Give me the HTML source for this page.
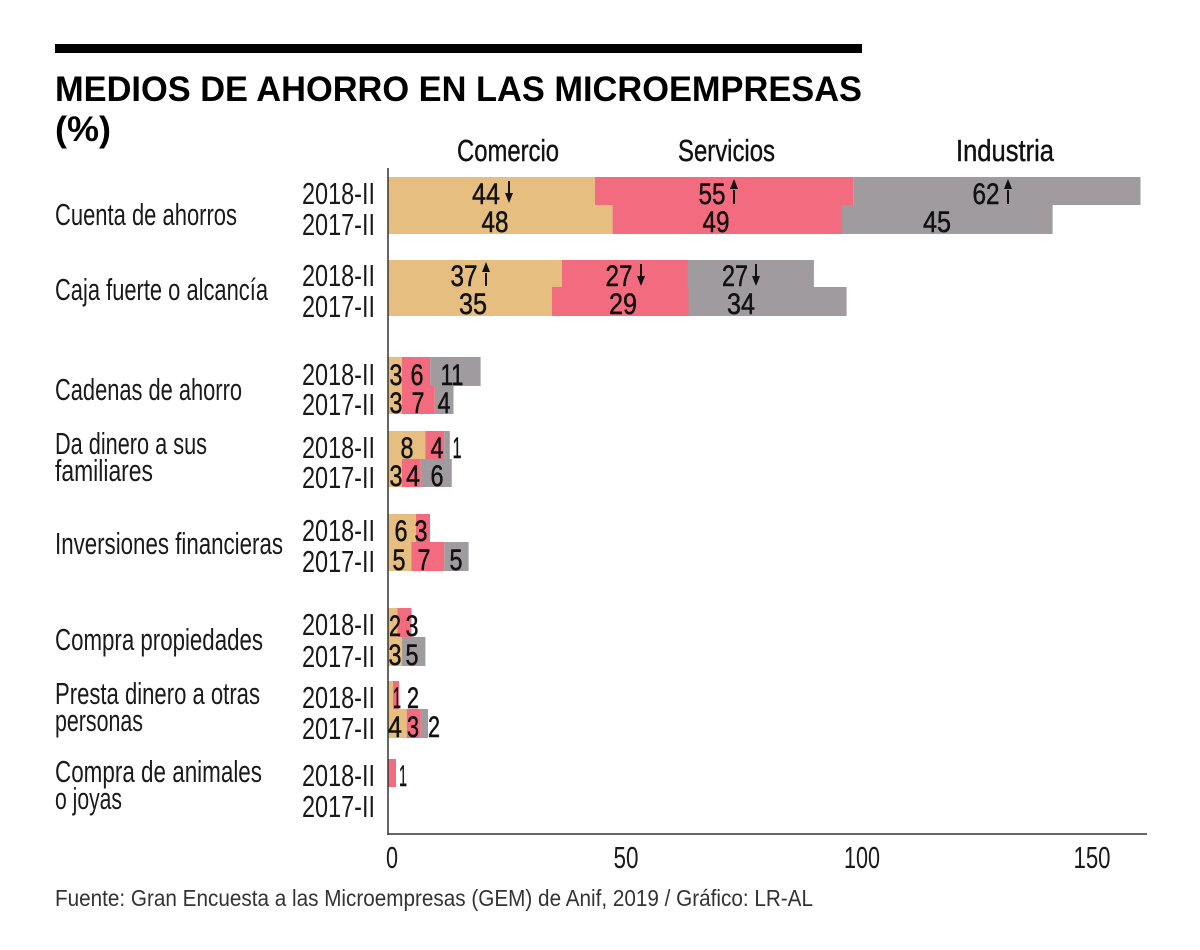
<!DOCTYPE html>
<html>
<head>
<meta charset="utf-8">
<style>
html,body{margin:0;padding:0;background:#fff;}
svg{display:block;}
text{font-family:"Liberation Sans Narrow","Liberation Sans",sans-serif;}
.t{font-weight:bold;fill:#000;}
.cat{font-size:31px;fill:#1a1a1a;}
.yr{font-size:31px;fill:#1a1a1a;}
.n{font-size:30px;fill:#111;text-anchor:middle;stroke:#111;stroke-width:0.5;}
.h{font-size:31px;fill:#111;stroke:#111;stroke-width:0.4;}
.tk{font-size:31px;fill:#1a1a1a;text-anchor:middle;}
.ft{font-size:23px;fill:#333;}
.a{stroke:#111;stroke-width:2;}
</style>
</head>
<body>
<svg width="1200" height="950" viewBox="0 0 1200 950" xmlns="http://www.w3.org/2000/svg">
<rect x="0" y="0" width="1200" height="950" fill="#fff"/>
<rect x="55" y="44" width="807" height="9" fill="#000"/>
<text class="t" x="55" y="101" font-size="35" textLength="807" lengthAdjust="spacingAndGlyphs">MEDIOS DE AHORRO EN LAS MICROEMPRESAS</text>
<text class="t" x="55" y="141" font-size="35" textLength="56" lengthAdjust="spacingAndGlyphs">(%)</text>

<text class="h" x="457" y="161" textLength="102" lengthAdjust="spacingAndGlyphs">Comercio</text>
<text class="h" x="678" y="161" textLength="97" lengthAdjust="spacingAndGlyphs">Servicios</text>
<text class="h" x="956" y="161" textLength="98" lengthAdjust="spacingAndGlyphs">Industria</text>

<g>
<rect x="388" y="177" width="206.9" height="28" fill="#E5BE80"/>
<rect x="594.9" y="177" width="258.4" height="28" fill="#F26B7E"/>
<rect x="853.3" y="177" width="287.2" height="28" fill="#A09B9E"/>
<rect x="388" y="205" width="224.6" height="29" fill="#E5BE80"/>
<rect x="612.6" y="205" width="229.4" height="29" fill="#F26B7E"/>
<rect x="842" y="205" width="210.6" height="29" fill="#A09B9E"/>
<rect x="388" y="260" width="174" height="27" fill="#E5BE80"/>
<rect x="562" y="260" width="125.5" height="27" fill="#F26B7E"/>
<rect x="687.5" y="260" width="126.4" height="27" fill="#A09B9E"/>
<rect x="388" y="287" width="163.8" height="29" fill="#E5BE80"/>
<rect x="551.8" y="287" width="136.7" height="29" fill="#F26B7E"/>
<rect x="688.5" y="287" width="158.1" height="29" fill="#A09B9E"/>
<rect x="388" y="357" width="14" height="29" fill="#E5BE80"/>
<rect x="402" y="357" width="28.1" height="29" fill="#F26B7E"/>
<rect x="430.1" y="357" width="50.5" height="29" fill="#A09B9E"/>
<rect x="388" y="386" width="14" height="28" fill="#E5BE80"/>
<rect x="402" y="386" width="32.8" height="28" fill="#F26B7E"/>
<rect x="434.8" y="386" width="18.7" height="28" fill="#A09B9E"/>
<rect x="388" y="431" width="37.4" height="28" fill="#E5BE80"/>
<rect x="425.4" y="431" width="18.8" height="28" fill="#F26B7E"/>
<rect x="444.2" y="431" width="5.6" height="28" fill="#A09B9E"/>
<rect x="388" y="459" width="14" height="28" fill="#E5BE80"/>
<rect x="402" y="459" width="18.8" height="28" fill="#F26B7E"/>
<rect x="420.8" y="459" width="31" height="28" fill="#A09B9E"/>
<rect x="388" y="514" width="28" height="28" fill="#E5BE80"/>
<rect x="416" y="514" width="14" height="28" fill="#F26B7E"/>
<rect x="388" y="542" width="23.4" height="29" fill="#E5BE80"/>
<rect x="411.4" y="542" width="32.8" height="29" fill="#F26B7E"/>
<rect x="444.2" y="542" width="24.4" height="29" fill="#A09B9E"/>
<rect x="388" y="608" width="9.4" height="29" fill="#E5BE80"/>
<rect x="397.4" y="608" width="14" height="29" fill="#F26B7E"/>
<rect x="388" y="637" width="14" height="29" fill="#E5BE80"/>
<rect x="402" y="637" width="23.4" height="29" fill="#A09B9E"/>
<rect x="388" y="681" width="5" height="28" fill="#E5BE80"/>
<rect x="393" y="681" width="6" height="28" fill="#F26B7E"/>
<rect x="388" y="709" width="18.7" height="29" fill="#E5BE80"/>
<rect x="406.7" y="709" width="14.1" height="29" fill="#F26B7E"/>
<rect x="420.8" y="709" width="7.2" height="29" fill="#A09B9E"/>
<rect x="388" y="759" width="8" height="28" fill="#F26B7E"/>
</g>

<line x1="388" y1="168" x2="388" y2="835" stroke="#333" stroke-width="1.5"/>
<line x1="388" y1="834" x2="1147" y2="834" stroke="#333" stroke-width="1.5"/>

<text class="tk" x="392" y="868" textLength="12" lengthAdjust="spacingAndGlyphs">0</text>
<text class="tk" x="626" y="868" textLength="25" lengthAdjust="spacingAndGlyphs">50</text>
<text class="tk" x="862" y="868" textLength="36" lengthAdjust="spacingAndGlyphs">100</text>
<text class="tk" x="1092" y="868" textLength="37" lengthAdjust="spacingAndGlyphs">150</text>

<text class="cat" x="55" y="225" textLength="182" lengthAdjust="spacingAndGlyphs">Cuenta de ahorros</text>
<text class="cat" x="55" y="300" textLength="213" lengthAdjust="spacingAndGlyphs">Caja fuerte o alcancía</text>
<text class="cat" x="55" y="400" textLength="187" lengthAdjust="spacingAndGlyphs">Cadenas de ahorro</text>
<text class="cat" x="55" y="454" textLength="152" lengthAdjust="spacingAndGlyphs">Da dinero a sus</text>
<text class="cat" x="55" y="481" textLength="98" lengthAdjust="spacingAndGlyphs">familiares</text>
<text class="cat" x="55" y="554" textLength="228" lengthAdjust="spacingAndGlyphs">Inversiones financieras</text>
<text class="cat" x="55" y="650" textLength="208" lengthAdjust="spacingAndGlyphs">Compra propiedades</text>
<text class="cat" x="55" y="704" textLength="205" lengthAdjust="spacingAndGlyphs">Presta dinero a otras</text>
<text class="cat" x="55" y="731" textLength="88" lengthAdjust="spacingAndGlyphs">personas</text>
<text class="cat" x="55" y="782" textLength="207" lengthAdjust="spacingAndGlyphs">Compra de animales</text>
<text class="cat" x="55" y="809" textLength="67" lengthAdjust="spacingAndGlyphs">o joyas</text>

<text class="yr" x="302" y="204" textLength="73" lengthAdjust="spacingAndGlyphs">2018-II</text>
<text class="yr" x="302" y="235" textLength="73" lengthAdjust="spacingAndGlyphs">2017-II</text>
<text class="yr" x="302" y="286" textLength="73" lengthAdjust="spacingAndGlyphs">2018-II</text>
<text class="yr" x="302" y="317" textLength="73" lengthAdjust="spacingAndGlyphs">2017-II</text>
<text class="yr" x="302" y="385" textLength="73" lengthAdjust="spacingAndGlyphs">2018-II</text>
<text class="yr" x="302" y="415" textLength="73" lengthAdjust="spacingAndGlyphs">2017-II</text>
<text class="yr" x="302" y="458" textLength="73" lengthAdjust="spacingAndGlyphs">2018-II</text>
<text class="yr" x="302" y="488" textLength="73" lengthAdjust="spacingAndGlyphs">2017-II</text>
<text class="yr" x="302" y="541" textLength="73" lengthAdjust="spacingAndGlyphs">2018-II</text>
<text class="yr" x="302" y="572" textLength="73" lengthAdjust="spacingAndGlyphs">2017-II</text>
<text class="yr" x="302" y="635" textLength="73" lengthAdjust="spacingAndGlyphs">2018-II</text>
<text class="yr" x="302" y="667" textLength="73" lengthAdjust="spacingAndGlyphs">2017-II</text>
<text class="yr" x="302" y="708" textLength="73" lengthAdjust="spacingAndGlyphs">2018-II</text>
<text class="yr" x="302" y="739" textLength="73" lengthAdjust="spacingAndGlyphs">2017-II</text>
<text class="yr" x="302" y="786" textLength="73" lengthAdjust="spacingAndGlyphs">2018-II</text>
<text class="yr" x="302" y="817" textLength="73" lengthAdjust="spacingAndGlyphs">2017-II</text>

<text class="n" x="486" y="204" textLength="28" lengthAdjust="spacingAndGlyphs">44</text>
<text class="n" x="712" y="204" textLength="27" lengthAdjust="spacingAndGlyphs">55</text>
<text class="n" x="986" y="204" textLength="27" lengthAdjust="spacingAndGlyphs">62</text>
<text class="n" x="495" y="232" textLength="27" lengthAdjust="spacingAndGlyphs">48</text>
<text class="n" x="716" y="232" textLength="27" lengthAdjust="spacingAndGlyphs">49</text>
<text class="n" x="937" y="232" textLength="28" lengthAdjust="spacingAndGlyphs">45</text>

<text class="n" x="464" y="286" textLength="27" lengthAdjust="spacingAndGlyphs">37</text>
<text class="n" x="619" y="286" textLength="27" lengthAdjust="spacingAndGlyphs">27</text>
<text class="n" x="735" y="286" textLength="26" lengthAdjust="spacingAndGlyphs">27</text>
<text class="n" x="473" y="314" textLength="28" lengthAdjust="spacingAndGlyphs">35</text>
<text class="n" x="623" y="314" textLength="28" lengthAdjust="spacingAndGlyphs">29</text>
<text class="n" x="741" y="314" textLength="28" lengthAdjust="spacingAndGlyphs">34</text>

<text class="n" x="396" y="385" textLength="13" lengthAdjust="spacingAndGlyphs">3</text>
<text class="n" x="417" y="385" textLength="13" lengthAdjust="spacingAndGlyphs">6</text>
<text class="n" x="452" y="385" textLength="23" lengthAdjust="spacingAndGlyphs">11</text>
<text class="n" x="396" y="413" textLength="13" lengthAdjust="spacingAndGlyphs">3</text>
<text class="n" x="418" y="413" textLength="13" lengthAdjust="spacingAndGlyphs">7</text>
<text class="n" x="444" y="413" textLength="13" lengthAdjust="spacingAndGlyphs">4</text>

<text class="n" x="407" y="458" textLength="13" lengthAdjust="spacingAndGlyphs">8</text>
<text class="n" x="437" y="458" textLength="13" lengthAdjust="spacingAndGlyphs">4</text>
<text class="n" x="457" y="458" textLength="9" lengthAdjust="spacingAndGlyphs">1</text>
<text class="n" x="396" y="486" textLength="13" lengthAdjust="spacingAndGlyphs">3</text>
<text class="n" x="413" y="486" textLength="14" lengthAdjust="spacingAndGlyphs">4</text>
<text class="n" x="437" y="486" textLength="13" lengthAdjust="spacingAndGlyphs">6</text>

<text class="n" x="401" y="541" textLength="13" lengthAdjust="spacingAndGlyphs">6</text>
<text class="n" x="421" y="541" textLength="13" lengthAdjust="spacingAndGlyphs">3</text>
<text class="n" x="399" y="570" textLength="13" lengthAdjust="spacingAndGlyphs">5</text>
<text class="n" x="424" y="570" textLength="13" lengthAdjust="spacingAndGlyphs">7</text>
<text class="n" x="456" y="570" textLength="13" lengthAdjust="spacingAndGlyphs">5</text>

<text class="n" x="395" y="636" textLength="12" lengthAdjust="spacingAndGlyphs">2</text>
<text class="n" x="412" y="636" textLength="13" lengthAdjust="spacingAndGlyphs">3</text>
<text class="n" x="395" y="665" textLength="13" lengthAdjust="spacingAndGlyphs">3</text>
<text class="n" x="412" y="665" textLength="13" lengthAdjust="spacingAndGlyphs">5</text>

<text class="n" x="397" y="708" textLength="8" lengthAdjust="spacingAndGlyphs">1</text>
<text class="n" x="413" y="708" textLength="12" lengthAdjust="spacingAndGlyphs">2</text>
<text class="n" x="395" y="737" textLength="14" lengthAdjust="spacingAndGlyphs">4</text>
<text class="n" x="413" y="737" textLength="12" lengthAdjust="spacingAndGlyphs">3</text>
<text class="n" x="434" y="737" textLength="12" lengthAdjust="spacingAndGlyphs">2</text>

<text class="n" x="403" y="786" textLength="8" lengthAdjust="spacingAndGlyphs">1</text>

<line class="a" x1="509" y1="181" x2="509" y2="195"/>
<polygon points="505,193 513,193 509,203" fill="#111"/>
<line class="a" x1="734" y1="190" x2="734" y2="204"/>
<polygon points="730,189 738,189 734,179" fill="#111"/>
<line class="a" x1="1008" y1="190" x2="1008" y2="204"/>
<polygon points="1004,189 1012,189 1008,179" fill="#111"/>
<line class="a" x1="486" y1="273" x2="486" y2="286"/>
<polygon points="482,272 490,272 486,262" fill="#111"/>
<line class="a" x1="641" y1="264" x2="641" y2="278"/>
<polygon points="637,276 645,276 641,286" fill="#111"/>
<line class="a" x1="756" y1="264" x2="756" y2="278"/>
<polygon points="752,276 760,276 756,286" fill="#111"/>

<text class="ft" x="55" y="906" textLength="758" lengthAdjust="spacingAndGlyphs">Fuente: Gran Encuesta a las Microempresas (GEM) de Anif, 2019 / Gráfico: LR-AL</text>
</svg>
</body>
</html>
